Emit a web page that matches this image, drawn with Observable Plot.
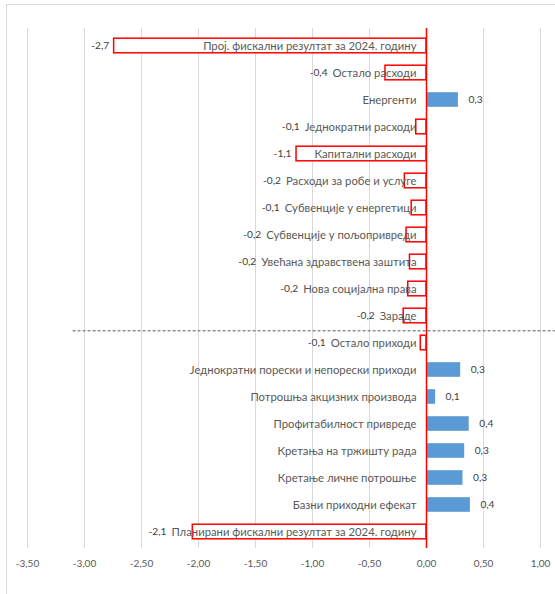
<!DOCTYPE html>
<html><head><meta charset="utf-8">
<script src="https://cdn.jsdelivr.net/npm/d3@7"></script>
<script src="https://cdn.jsdelivr.net/npm/@observablehq/plot@0.6"></script>
<style>
body{margin:0;background:#fff;}
#wrap{position:relative;width:555px;height:594px;overflow:hidden;background:#fff;}
#frame{position:absolute;left:6px;top:4px;width:700px;height:800px;border:1px solid #d9d9d9;}
#chart{position:absolute;left:0;top:0;}
</style></head><body>
<div id="wrap"><div id="frame"></div><div id="chart"></div></div>
<script>
const categories = [
  "Проj. фискални резултат за 2024. годину",
  "Остало расходи",
  "Енергенти",
  "Једнократни расходи",
  "Капитални расходи",
  "Расходи за робе и услуге",
  "Субвенције у енергетици",
  "Субвенције у пољопривреди",
  "Увећана здравствена заштита",
  "Нова социјална права",
  "Зараде",
  "Остало приходи",
  "Једнократни порески и непорески приходи",
  "Потрошња акцизних производа",
  "Профитабилност привреде",
  "Кретања на тржишту рада",
  "Кретање личне потрошње",
  "Базни приходни ефекат",
  "Планирани фискални резултат за 2024. годину"
];
const values = [-2.74, -0.36, 0.28, -0.09, -1.14, -0.19, -0.13, -0.175, -0.145, -0.16, -0.20, -0.05, 0.30, 0.08, 0.375, 0.335, 0.32, 0.385, -2.05];
const valueLabels = ["-2,7","-0,4","0,3","-0,1","-1,1","-0,2","-0,1","-0,2","-0,2","-0,2","-0,2","-0,1","0,3","0,1","0,4","0,3","0,3","0,4","-2,1"];
const xTicks = [-3.5, -3, -2.5, -2, -1.5, -1, -0.5, 0, 0.5, 1];
const tickLabels = ["-3,50","-3,00","-2,50","-2,00","-1,50","-1,00","-0,50","0,00","0,50","1,00"];
const separatorBefore = "Остало приходи";
const separatorFrom = -3.1, separatorTo = 1.13;

const W = 555, H = 594, mL = 27, mR = 15, mT = 28, mB = 46;
const xDomain = [-3.5, 1];
const k = (W - mL - mR) / (xDomain[1] - xDomain[0]);
const step = (H - mT - mB) / categories.length;
const FONT = "Lato";
const catSize = 11.3, valSize = 10.2, catGap = 10;

const ctx = document.createElement("canvas").getContext("2d");
ctx.font = `${catSize}px ${FONT}`;
const data = categories.map((c, i) => ({
  category: c, value: values[i], label: valueLabels[i],
  textStart: -(catGap + ctx.measureText(c).width) / k
}));
const neg = data.filter(d => d.value < 0);
const pos = data.filter(d => d.value >= 0);

const chart = Plot.plot({
  width: W, height: H,
  marginLeft: mL, marginRight: mR, marginTop: mT, marginBottom: mB,
  style: {fontFamily: FONT, fontSize: "10px", color: "#595959", background: "transparent"},
  x: {domain: xDomain, ticks: xTicks, tickFormat: d => tickLabels[xTicks.indexOf(d)], tickSize: 0, tickPadding: 11, label: null},
  y: {domain: categories, padding: 0, axis: null},
  marks: [
    Plot.ruleX(xTicks, {stroke: "#d9d9d9", strokeWidth: 1}),
    Plot.ruleY([separatorBefore], {y: d => d, x1: separatorFrom, x2: separatorTo, dy: -step / 2 + 1.5, stroke: "#595959", strokeWidth: 1, strokeDasharray: "3,2"}),
    Plot.barX(neg, {x: "value", y: "category", fill: "white", stroke: "#ff0000", strokeWidth: 1.5, insetTop: 6.2, insetBottom: 6.2}),
    Plot.barX(pos, {x: "value", y: "category", fill: "#5b9bd5", insetTop: 6.2, insetBottom: 6.2}),
    Plot.ruleX([0], {stroke: "#ff0000", strokeWidth: 1.5}),
    Plot.text(data, {x: 0, y: "category", text: "category", textAnchor: "end", dx: -catGap, fontSize: catSize, fill: "#595959"}),
    Plot.text(neg, {x: d => Math.min(d.value, d.textStart), y: "category", text: "label", textAnchor: "end", dx: -5, fontSize: valSize, fill: "#404040"}),
    Plot.text(pos, {x: "value", y: "category", text: "label", textAnchor: "start", dx: 10, fontSize: valSize, fill: "#404040"})
  ]
});
document.getElementById("chart").appendChild(chart);
</script>
</body></html>
